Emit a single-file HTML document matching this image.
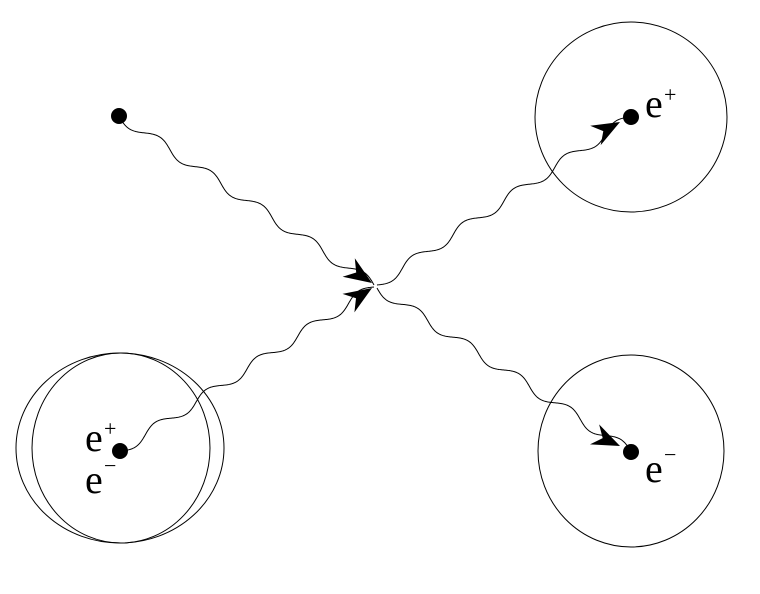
<!DOCTYPE html>
<html><head><meta charset="utf-8"><style>
html,body{margin:0;padding:0;background:#fff;}
svg{display:block;position:absolute;left:0;top:0;}
.t{position:absolute;font-family:"Liberation Serif","DejaVu Serif",serif;color:#000;line-height:1;white-space:nowrap;}
.e{font-size:40px;}
.s{font-size:22px;}
</style></head><body>
<svg id="s" width="760" height="594" viewBox="0 0 760 594" xmlns="http://www.w3.org/2000/svg">
<g fill="none" stroke="#000" stroke-width="1">
<ellipse cx="631" cy="117" rx="96" ry="95"/>
<ellipse cx="631" cy="451" rx="93" ry="96"/>
<ellipse cx="120" cy="448" rx="104" ry="95"/>
<ellipse cx="121" cy="448" rx="89" ry="95"/>
<path id="w1"/><path id="w2"/><path id="w3"/><path id="w4"/>
</g>
<g fill="#000">
<circle cx="119" cy="116" r="8"/>
<circle cx="631" cy="117" r="8"/>
<circle cx="120" cy="451" r="8"/>
<circle cx="631" cy="452" r="8"/>
<g id="arrows"></g>
</g>
</svg>
<div class="t e" style="left:85px;top:418px">e</div><div class="t s" style="left:104px;top:418px">+</div>
<div class="t e" style="left:85px;top:460px">e</div><div class="t s" style="left:104px;top:455px">−</div>
<div class="t e" style="left:645px;top:84px">e</div><div class="t s" style="left:664px;top:84px">+</div>
<div class="t e" style="left:645px;top:449px">e</div><div class="t s" style="left:664px;top:444px">−</div>
<script>
function wave(id,x0,y0,x1,y1){
 var dx=x1-x0,dy=y1-y0,L=Math.hypot(dx,dy),ux=dx/L,uy=dy/L,px=-uy,py=ux;
 var n=Math.max(1,Math.round(L/59)),lam=L/n,A=5,d="";
 for(var i=0;i<=400;i++){var s=L*i/400,o=A*Math.sin(2*Math.PI*s/lam);
  var x=x0+ux*s+px*o,y=y0+uy*s+py*o;d+=(i?"L":"M")+x.toFixed(2)+" "+y.toFixed(2);}
 document.getElementById(id).setAttribute("d",d);
}
wave("w1",119,116,374,285);
wave("w2",120,451,374,287);
wave("w3",377,285,631,117);
wave("w4",377,288,631,452);
function arrow(tx,ty,ang){
 var c=Math.cos(ang),s=Math.sin(ang);
 function p(a,b){return (tx+a*c-b*s).toFixed(1)+","+(ty+a*s+b*c).toFixed(1);}
 var pts=[p(0,0),p(-28,-11),p(-19,0),p(-28,11)].join(" ");
 var e=document.createElementNS("http://www.w3.org/2000/svg","polygon");
 e.setAttribute("points",pts);document.getElementById("arrows").appendChild(e);
}
arrow(372,283,Math.atan2(168,253));
arrow(372,288,Math.atan2(-164,254));
arrow(620,122,Math.atan2(-12,22));
arrow(620,446,Math.atan2(10,22));
</script>
</body></html>
